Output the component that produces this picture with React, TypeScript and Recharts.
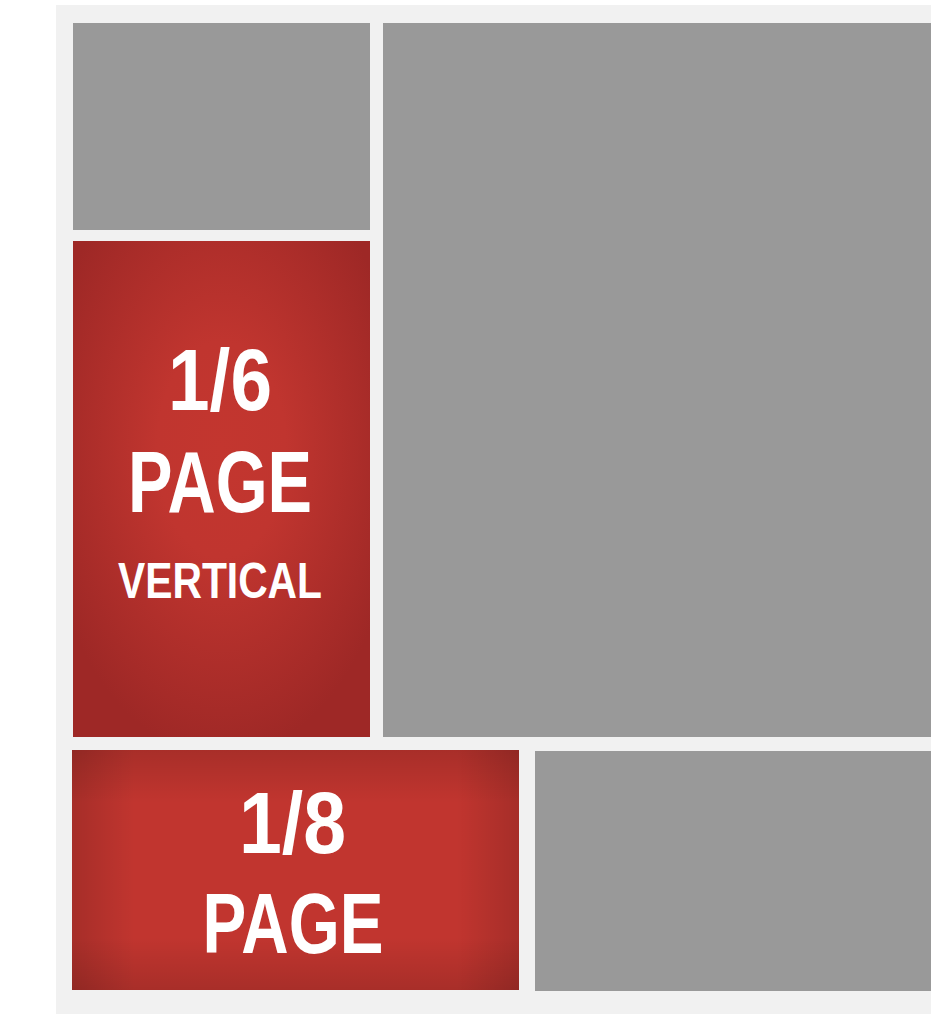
import { ComposedChart, XAxis, YAxis, ReferenceArea, Scatter } from 'recharts';

// page units: 0,0 is the top-left corner of the light sheet
const blockNames = ['sheet', 'topLeft', 'sixth', 'big', 'eighth', 'bottomRight'];
const blockX0 = [0, 17, 17, 327, 16, 479];
const blockX1 = [900, 314, 314, 900, 463, 900];
const blockY0 = [0, 18, 236, 18, 745, 746];
const blockY1 = [1009, 225, 732, 732, 985, 986];

const labelText = ['1/6', 'PAGE', 'VERTICAL', '1/8', 'PAGE'];
const labelX = [164, 164, 164, 236.5, 237];
const labelY = [405, 507, 593, 848, 948];

const blocks = blockNames.map((name, i) => ({
    name, x0: blockX0[i], x1: blockX1[i], y0: blockY0[i], y1: blockY1[i],
}));
const labels = labelText.map((text, i) => ({ text, x: labelX[i], y: labelY[i], idx: i }));

// styling, kept apart from the data
const blockFill: Record<string, string[]> = {
    sheet: ['#f1f1f1'],
    topLeft: ['#999999'],
    big: ['#999999'],
    bottomRight: ['#999999'],
    sixth: ['url(#sixthRed)'],
    eighth: ['#c1352f', 'url(#edgeH)', 'url(#edgeV)'],
};
const labelStyle = [
    { size: 88, width: 104 },
    { size: 87, width: 184 },
    { size: 50, width: 204 },
    { size: 88, width: 107 },
    { size: 85, width: 181 },
];

const LabelShape = (props: any) => {
    const { cx, cy, payload } = props;
    const st = labelStyle[payload.idx];
    return (
        <text x={cx} y={cy} textAnchor="middle" fill="#ffffff" fontWeight={700}
            fontFamily="'Liberation Sans', Arial, sans-serif" fontSize={st.size}
            textLength={st.width} lengthAdjust="spacingAndGlyphs">
            {payload.text}
        </text>
    );
};

export default function App() {
    return (
        <div style={{ position: 'absolute', left: 0, top: 0, width: 931, height: 1014, overflow: 'hidden' }}>
            <ComposedChart width={931} height={1014} data={labels} margin={{ top: 0, right: 0, bottom: 0, left: 0 }}>
                <defs>
                    <radialGradient id="sixthRed" cx="0.5" cy="0.42" r="0.62">
                        <stop offset="0%" stopColor="#c3362f" />
                        <stop offset="35%" stopColor="#c0352f" />
                        <stop offset="100%" stopColor="#9e2826" />
                    </radialGradient>
                    <linearGradient id="edgeH" x1="0" y1="0" x2="1" y2="0">
                        <stop offset="0%" stopColor="#000" stopOpacity={0.14} />
                        <stop offset="14%" stopColor="#000" stopOpacity={0} />
                        <stop offset="86%" stopColor="#000" stopOpacity={0} />
                        <stop offset="100%" stopColor="#000" stopOpacity={0.14} />
                    </linearGradient>
                    <linearGradient id="edgeV" x1="0" y1="0" x2="0" y2="1">
                        <stop offset="0%" stopColor="#000" stopOpacity={0.13} />
                        <stop offset="22%" stopColor="#000" stopOpacity={0} />
                        <stop offset="78%" stopColor="#000" stopOpacity={0} />
                        <stop offset="100%" stopColor="#000" stopOpacity={0.13} />
                    </linearGradient>
                </defs>
                <XAxis type="number" dataKey="x" domain={[-56, 875]} hide allowDataOverflow />
                <YAxis type="number" dataKey="y" domain={[-5, 1009]} reversed hide allowDataOverflow />
                {blocks.flatMap(b => blockFill[b.name].map((fill, j) => (
                    <ReferenceArea key={b.name + j} x1={b.x0} x2={b.x1} y1={b.y0} y2={b.y1}
                        fill={fill} fillOpacity={1} stroke="none" ifOverflow="hidden" />
                )))}
                <Scatter data={labels} dataKey="y" shape={LabelShape} isAnimationActive={false} />
            </ComposedChart>
        </div>
    );
}
